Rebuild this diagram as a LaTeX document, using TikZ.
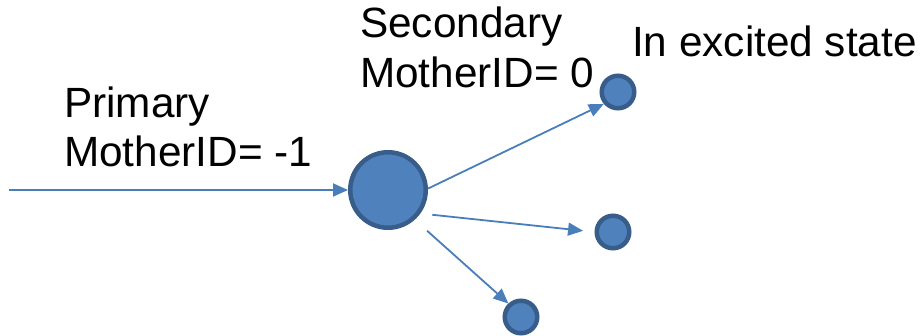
\documentclass[tikz,border=0pt]{standalone}
\usepackage{fontspec}
\setmainfont{Liberation Sans}
\usetikzlibrary{arrows.meta}

\definecolor{ballfill}{HTML}{4F81BD}
\definecolor{ballline}{HTML}{385D8A}
\definecolor{arrowblue}{HTML}{4A7EBB}

\tikzset{
  ball/.style={circle, draw=ballline, fill=ballfill, line width=4.5pt, inner sep=0pt},
  bigball/.style={ball, minimum size=75.5pt},
  smallball/.style={ball, minimum size=32.5pt},
  track/.style={draw=arrowblue, line width=1.8pt,
    -{Triangle[length=15pt,width=13pt]}},
  label/.style={anchor=base west, inner sep=0pt, font=\fontsize{42.3pt}{49pt}\selectfont}
}

\begin{document}
\begin{tikzpicture}[x=1pt, y=-1pt]
  \useasboundingbox (0,0) rectangle (922,336);

  % particles
  \node[bigball] (main) at (388,190) {};
  \node[smallball] (s1) at (618,92) {};
  \node[smallball] (s2) at (613,232) {};
  \node[smallball] (s3) at (521,317) {};

  % incoming primary track
  \coordinate (src) at (9,190);
  \draw[track] (src) -- (main.west);

  % secondary tracks
  \draw[track] (main.2) -- (s1.220);
  \draw[track, shorten <=12pt, shorten >=11.5pt] (main.-36) -- (s2.180);
  \draw[track, shorten <=16.5pt] (main.-48) -- (s3.133);

  % labels
  \node[label] (prim1) at (64,118) {Primary};
  \node[label] (prim2) at (64,167) {MotherID= -1};
  \node[label] (sec1) at (360,38) {Secondary};
  \node[label] (sec2) at (360,88) {MotherID= 0};
  \node[label] (exc) at (632,57) {In excited state};
\end{tikzpicture}
\end{document}
